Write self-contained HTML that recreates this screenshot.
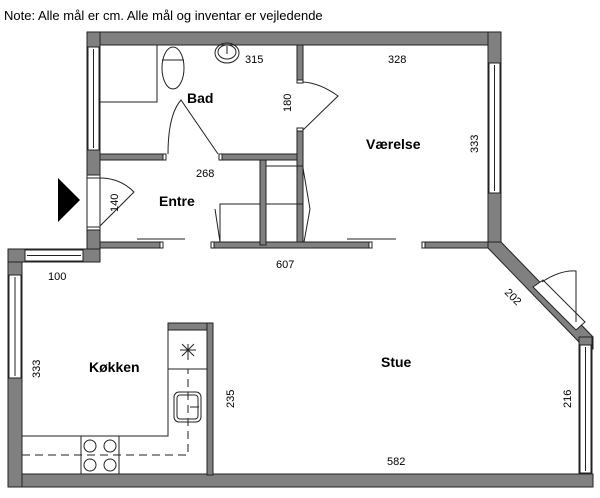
<!DOCTYPE html>
<html><head><meta charset="utf-8"><style>
html,body{margin:0;padding:0;background:#fff;width:600px;height:498px;overflow:hidden}
text{font-family:"Liberation Sans",sans-serif;fill:#000}
</style></head><body>
<svg width="600" height="498" viewBox="0 0 600 498" xmlns="http://www.w3.org/2000/svg">
<text x="4" y="20" font-size="13">Note: Alle mål er cm. Alle mål og inventar er vejledende</text>
<g fill="#808080" stroke="#222" stroke-width="1">
<rect x="87" y="32" width="414" height="13"/>
<rect x="87" y="32" width="13" height="143"/>
<rect x="87" y="230" width="13" height="32"/>
<rect x="488" y="32" width="13" height="216"/>
<polygon points="488,242 501,242 593,337 593,349 579,349 579,342 488,248"/>
<rect x="579" y="337" width="13" height="150"/>
<rect x="8" y="474" width="585" height="13"/>
<rect x="8" y="249" width="14" height="238"/>
<rect x="8" y="249" width="92" height="13"/>
<rect x="100" y="154" width="66" height="6"/>
<rect x="219" y="154" width="84" height="6"/>
<rect x="297" y="45" width="6" height="35"/>
<rect x="297" y="131" width="6" height="117"/>
<rect x="100" y="242" width="63" height="6"/>
<rect x="211" y="242" width="161" height="6"/>
<rect x="422" y="242" width="66" height="6"/>
<rect x="260" y="160" width="6" height="85"/>
<rect x="168" y="323" width="45" height="7"/>
<rect x="207" y="323" width="6" height="152"/>
</g>
<g fill="#fff" stroke="#222" stroke-width="1">
<rect x="88" y="47" width="11" height="103"/><line x1="93.5" y1="49" x2="93.5" y2="148"/>
<rect x="489" y="63" width="11" height="130"/><line x1="494.5" y1="65" x2="494.5" y2="191"/>
<rect x="25" y="250" width="58" height="11"/><line x1="27" y1="255.5" x2="81" y2="255.5"/>
<rect x="9" y="275" width="12" height="103"/><line x1="15" y1="277" x2="15" y2="376"/>
<rect x="580" y="345" width="11" height="128"/><line x1="585.5" y1="347" x2="585.5" y2="471"/>
<polygon points="533,287 543,280 585,322 576,330"/>
<rect x="87" y="175" width="13" height="55" stroke="none"/>
<line x1="87" y1="175" x2="87" y2="230"/><line x1="100" y1="175" x2="100" y2="230"/>
</g>
<g fill="#fff" stroke="#222" stroke-width="1">
<rect x="163" y="154" width="3" height="6"/><rect x="219" y="154" width="3" height="6"/>
<rect x="297" y="80" width="6" height="3"/><rect x="297" y="128" width="6" height="3"/>
<rect x="160" y="242" width="3" height="6"/><rect x="211" y="242" width="3" height="6"/>
<rect x="369" y="242" width="3" height="6"/><rect x="422" y="242" width="3" height="6"/>
<rect x="87" y="175" width="13" height="3"/><rect x="87" y="227" width="13" height="3"/>
</g>
<g fill="none" stroke="#222" stroke-width="1">
<path d="M168,154 Q168,115 181,100 L218,154"/>
<path d="M303,82 Q320,83 338,96 L303,130"/>
<path d="M100,178 Q120,178 134,192 L100,226"/>
<path d="M542,282 Q560,270 576,271 L576,322"/>
<line x1="137" y1="239" x2="185" y2="239"/>
<line x1="347" y1="239" x2="396" y2="239"/>
<polyline points="157,45 157,102 100,102"/>
<ellipse cx="173" cy="68" rx="11" ry="21"/>
<line x1="162" y1="60" x2="184" y2="60"/>
<ellipse cx="227" cy="53" rx="12" ry="10"/>
<ellipse cx="227" cy="52" rx="9" ry="7"/>
<line x1="227" y1="46" x2="227" y2="54"/>
<rect x="220" y="204" width="40" height="38"/>
<line x1="215" y1="209" x2="220" y2="242"/>
<line x1="266" y1="166" x2="303" y2="166"/>
<line x1="266" y1="204" x2="303" y2="204"/>
<polyline points="303,168 310,209 304,242"/>
<polyline points="168,330 168,436 22,436"/>
<line x1="168" y1="369" x2="207" y2="369"/>
<rect x="81" y="436" width="38" height="38"/>
<circle cx="90" cy="446" r="6"/><circle cx="110" cy="446" r="6"/>
<circle cx="90" cy="465" r="6"/><circle cx="110" cy="465" r="6"/>
<rect x="174" y="392" width="27" height="30" rx="5"/>
<rect x="177" y="395" width="21" height="24" rx="3"/>
<line x1="190" y1="407" x2="199" y2="407"/>
<path d="M22,455 H188 V369" stroke-dasharray="8,5"/>
<line x1="188" y1="344" x2="188" y2="360"/><line x1="180" y1="350" x2="196" y2="350"/>
<line x1="182" y1="344" x2="194" y2="356"/><line x1="194" y1="344" x2="182" y2="356"/>
</g>
<polygon points="58,178 80,200 58,222" fill="#000"/>
<g font-size="11">
<text x="245" y="63">315</text>
<text x="388" y="63">328</text>
<text x="196" y="177">268</text>
<text x="276" y="268">607</text>
<text x="48" y="280">100</text>
<text x="387" y="465">582</text>
<text transform="translate(291,112) rotate(-90)">180</text>
<text transform="translate(478,153) rotate(-90)">333</text>
<text transform="translate(118,212) rotate(-90)">140</text>
<text transform="translate(40,378) rotate(-90)">333</text>
<text transform="translate(234,408) rotate(-90)">235</text>
<text transform="translate(571,408) rotate(-90)">216</text>
<text transform="translate(504,293) rotate(45)">202</text>
</g>
<g font-size="14" font-weight="bold">
<text x="187" y="103">Bad</text>
<text x="366" y="149">Værelse</text>
<text x="159" y="206">Entre</text>
<text x="89" y="372">Køkken</text>
<text x="381" y="367">Stue</text>
</g>
</svg>
</body></html>
